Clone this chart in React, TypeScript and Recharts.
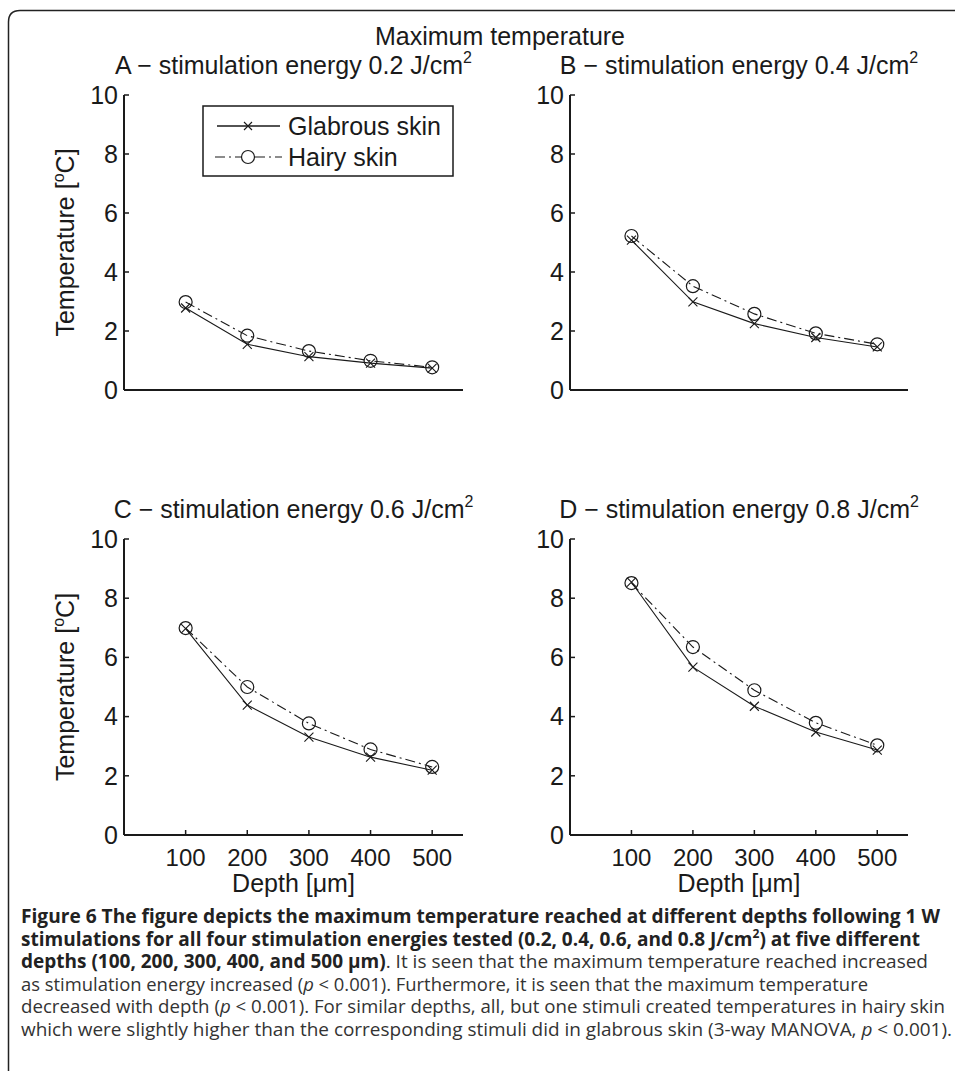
import React from 'react';
import { LineChart, Line, XAxis, YAxis, Label } from 'recharts';

// depths in µm
const depths = [100, 200, 300, 400, 500];
const yTicks = [0, 2, 4, 6, 8, 10];

// max temperature [°C]
const glabrousA = [2.78, 1.55, 1.13, 0.91, 0.74];
const hairyA = [2.98, 1.84, 1.32, 0.99, 0.77];
const glabrousB = [5.08, 2.99, 2.25, 1.78, 1.46];
const hairyB = [5.22, 3.52, 2.58, 1.92, 1.55];
const glabrousC = [6.97, 4.39, 3.31, 2.63, 2.19];
const hairyC = [6.99, 5.0, 3.77, 2.89, 2.3];
const glabrousD = [8.54, 5.67, 4.35, 3.48, 2.87];
const hairyD = [8.51, 6.35, 4.89, 3.79, 3.03];

const panelLetters = ['A', 'B', 'C', 'D'];
const panelEnergies = ['0.2', '0.4', '0.6', '0.8'];
const seriesNames = ['Glabrous skin', 'Hairy skin'];

const ink = '#1a1a1a';
const font = '"Liberation Sans", Arial, Helvetica, sans-serif';
const capFont = '"Open Sans", "Noto Sans", sans-serif';
const dashDot = '10 4 2 4';

const renderCross = (p: any) => {
  const s = 4.5;
  return (
    <path
      key={`x-${p.index}`}
      d={`M${p.cx - s},${p.cy - s}L${p.cx + s},${p.cy + s}M${p.cx - s},${p.cy + s}L${p.cx + s},${p.cy - s}`}
      stroke={ink}
      strokeWidth={1.1}
      fill="none"
    />
  );
};

const renderCircle = (p: any) => (
  <circle key={`o-${p.index}`} cx={p.cx} cy={p.cy} r={6.5} stroke={ink} strokeWidth={1.2} fill="none" />
);

const YLabel = (props: any) => {
  const vb = props.viewBox;
  const x = vb.x + 74;
  const y = vb.y + vb.height / 2;
  return (
    <text x={x} y={y} transform={`rotate(-90, ${x}, ${y})`} textAnchor="middle" fontSize={25} fill={ink} fontFamily={font}>
      Temperature [<tspan dy={-10} fontSize={16}>o</tspan><tspan dy={10}>C]</tspan>
    </text>
  );
};

const XLabel = (props: any) => {
  const vb = props.viewBox;
  return (
    <text x={vb.x + vb.width / 2} y={vb.y + 57} textAnchor="middle" fontSize={25} fill={ink} fontFamily={font}>
      Depth [μm]
    </text>
  );
};

interface PanelProps {
  left: number;
  top: number;
  width: number;
  height: number;
  axisX: number;
  plotTop: number;
  plotRight: number;
  plotBottom: number;
  glabrous: number[];
  hairy: number[];
  showYLabel: boolean;
  showXLabels: boolean;
}

function Panel({ left, top, width, height, axisX, plotTop, plotRight, plotBottom, glabrous, hairy, showYLabel, showXLabels }: PanelProps) {
  const data = depths.map((d, i) => ({ depth: d, glabrous: glabrous[i], hairy: hairy[i] }));
  return (
    <div style={{ position: 'absolute', left, top }}>
      <LineChart
        width={width}
        height={height}
        data={data}
        margin={{ top: plotTop - top, right: left + width - plotRight, bottom: 0, left: 0 }}
      >
        <XAxis
          dataKey="depth"
          type="number"
          domain={[0, 550]}
          allowDataOverflow
          ticks={depths}
          interval={0}
          height={top + height - plotBottom}
          tickSize={-5}
          tickMargin={19}
          axisLine={{ stroke: ink, strokeWidth: 2 }}
          tickLine={{ stroke: ink, strokeWidth: 1.5 }}
          tick={showXLabels ? { fontSize: 24, fill: ink, fontFamily: font } : false}
        >
          {showXLabels && <Label content={<XLabel />} />}
        </XAxis>
        <YAxis
          type="number"
          domain={[0, 10]}
          ticks={yTicks}
          interval={0}
          width={axisX - left}
          tickSize={-5}
          tickMargin={11}
          axisLine={{ stroke: ink, strokeWidth: 2 }}
          tickLine={{ stroke: ink, strokeWidth: 1.5 }}
          tick={{ fontSize: 25, fill: ink, fontFamily: font }}
        >
          {showYLabel && <Label content={<YLabel />} />}
        </YAxis>
        <Line
          type="linear"
          dataKey="glabrous"
          name={seriesNames[0]}
          stroke={ink}
          strokeWidth={1.1}
          dot={renderCross}
          isAnimationActive={false}
        />
        <Line
          type="linear"
          dataKey="hairy"
          name={seriesNames[1]}
          stroke={ink}
          strokeWidth={1.1}
          strokeDasharray={dashDot}
          dot={renderCircle}
          isAnimationActive={false}
        />
      </LineChart>
    </div>
  );
}

function PanelTitle({ x, y, i }: { x: number; y: number; i: number }) {
  return (
    <text x={x} y={y} textAnchor="middle" fontSize={25} fill={ink} fontFamily={font}>
      {`${panelLetters[i]} − stimulation energy ${panelEnergies[i]} J/cm`}
      <tspan dy={-11} fontSize={16}>2</tspan>
    </text>
  );
}

function Caption() {
  const x = 21;
  const reg = { fill: '#333', fontWeight: 400 };
  const it = { fontStyle: 'italic' as const };
  const fit = { lengthAdjust: 'spacingAndGlyphs' };
  return (
    <g fontFamily={capFont} fontSize={19} fill="#222">
      <text x={x} y={923} textLength={919} fontWeight={700} {...fit}>
        Figure 6 The figure depicts the maximum temperature reached at different depths following 1 W
      </text>
      <text x={x} y={945.5} textLength={899} fontWeight={700} {...fit}>
        stimulations for all four stimulation energies tested (0.2, 0.4, 0.6, and 0.8 J/cm
        <tspan dy={-8} fontSize={12}>2</tspan>
        <tspan dy={8}>) at five different</tspan>
      </text>
      <text x={x} y={968} textLength={907} fontWeight={700} {...fit}>
        depths (100, 200, 300, 400, and 500 μm)
        <tspan {...reg}>. It is seen that the maximum temperature reached increased</tspan>
      </text>
      <text x={x} y={990.5} textLength={847} {...reg} {...fit}>
        as stimulation energy increased (<tspan {...it}>p</tspan> &lt; 0.001). Furthermore, it is seen that the maximum temperature
      </text>
      <text x={x} y={1013} textLength={924} {...reg} {...fit}>
        decreased with depth (<tspan {...it}>p</tspan> &lt; 0.001). For similar depths, all, but one stimuli created temperatures in hairy skin
      </text>
      <text x={x} y={1035.5} textLength={931} {...reg} {...fit}>
        which were slightly higher than the corresponding stimuli did in glabrous skin (3-way MANOVA, <tspan {...it}>p</tspan> &lt; 0.001).
      </text>
    </g>
  );
}

export default function App() {
  return (
    <div style={{ position: 'absolute', left: 0, top: 0, width: 955, height: 1071, background: '#fff', overflow: 'hidden' }}>
      <Panel left={0} top={0} width={480} height={420} axisX={124} plotTop={95} plotRight={463} plotBottom={390}
        glabrous={glabrousA} hairy={hairyA} showYLabel showXLabels={false} />
      <Panel left={480} top={0} width={475} height={420} axisX={570} plotTop={95} plotRight={908} plotBottom={390}
        glabrous={glabrousB} hairy={hairyB} showYLabel={false} showXLabels={false} />
      <Panel left={0} top={420} width={480} height={480} axisX={124} plotTop={539} plotRight={463} plotBottom={835}
        glabrous={glabrousC} hairy={hairyC} showYLabel showXLabels />
      <Panel left={480} top={420} width={475} height={480} axisX={570} plotTop={539} plotRight={908} plotBottom={835}
        glabrous={glabrousD} hairy={hairyD} showYLabel={false} showXLabels />
      <svg width={955} height={1071} style={{ position: 'absolute', left: 0, top: 0, pointerEvents: 'none' }}>
        <path d="M8.5,1071 L8.5,22 Q8.5,10.5 20,10.5 L955,10.5" stroke="#222" strokeWidth={1.5} fill="none" />
        <text x={500} y={45} textAnchor="middle" fontSize={25} fill={ink} fontFamily={font}>Maximum temperature</text>
        <PanelTitle x={293.5} y={74} i={0} />
        <PanelTitle x={739} y={74} i={1} />
        <PanelTitle x={293.5} y={518} i={2} />
        <PanelTitle x={739} y={518} i={3} />
        {/* legend */}
        <g fontFamily={font} fontSize={25} fill={ink}>
          <rect x={203} y={106} width={250} height={70} fill="#fff" stroke={ink} strokeWidth={1.5} />
          <line x1={217} y1={126} x2={280} y2={126} stroke={ink} strokeWidth={1.5} />
          <path d="M244,122L252,130M244,130L252,122" stroke={ink} strokeWidth={1.1} />
          <text x={288} y={135}>{seriesNames[0]}</text>
          <line x1={215} y1={157} x2={282} y2={157} stroke={ink} strokeWidth={1.1} strokeDasharray={dashDot} />
          <circle cx={248} cy={157} r={6.5} fill="#fff" stroke={ink} strokeWidth={1.2} />
          <text x={288} y={166}>{seriesNames[1]}</text>
        </g>
        <Caption />
      </svg>
    </div>
  );
}
